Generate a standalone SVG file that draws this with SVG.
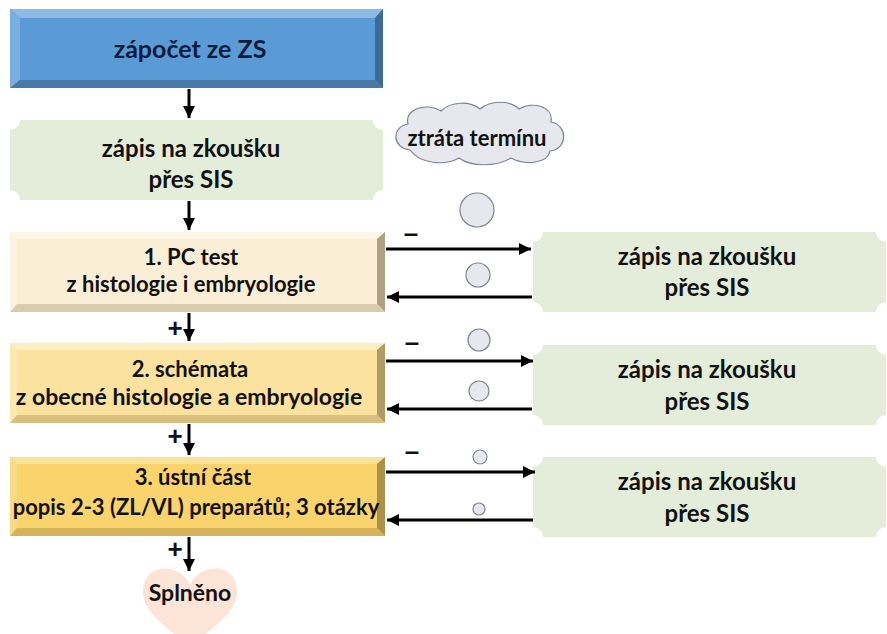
<svg xmlns="http://www.w3.org/2000/svg" width="887" height="634" viewBox="0 0 887 634">
<defs>
<style>
.t{font-family:Lato,"Open Sans","Liberation Sans",sans-serif;font-weight:bold;fill:#111;text-anchor:middle}
.s22{font-size:22px}
.s24{font-size:24px}
.sg{font-family:"Liberation Sans",Arial,sans-serif;font-weight:bold;font-size:26px;fill:#111;text-anchor:middle}
.green{fill:#E3EDDA}
.conn{stroke:#000;stroke-width:3;fill:none}
.bub{fill:#E6E8EE;stroke:#7E8592;stroke-width:1.2}
</style>
<marker id="ah" markerUnits="userSpaceOnUse" markerWidth="14" markerHeight="12" refX="12" refY="6" orient="auto">
<path d="M0,0 L12,6 L0,12 Z" fill="#000"/>
</marker>
</defs>
<rect width="887" height="634" fill="#fff"/>

<g id="n-zapocet">
<rect x="10" y="9" width="373" height="79" fill="#5B9BD5"/>
<polygon points="10,9 383,9 375,18 20,18" fill="#8DB9E4"/>
<polygon points="10,9 20,18 20,80 10,88" fill="#7AAEDE"/>
<polygon points="383,9 383,88 375,80 375,18" fill="#3D6A98"/>
<polygon points="10,88 383,88 375,80 20,80" fill="#4878A8"/>
<text class="t" x="190" y="58" font-size="25" style="fill:#0F1B3A">zápočet ze ZS</text>
</g>

<g id="n-zapis">
<path class="green" d="M20,120 H373 A10,10 0 0 0 383,130 V190 A10,10 0 0 0 373,200 H20 A10,10 0 0 0 10,190 V130 A10,10 0 0 0 20,120 Z"/>
<text class="t s24" x="191" y="157">zápis na zkoušku</text>
<text class="t s24" x="191" y="188">přes SIS</text>
</g>

<g id="n-pc">
<rect x="10" y="232" width="375" height="80" fill="#FBEED6"/>
<polygon points="10,232 385,232 377,239 17,239" fill="#FDF5E8"/>
<polygon points="10,232 17,239 17,304 10,312" fill="#FCF2E0"/>
<polygon points="385,232 385,312 377,304 377,239" fill="#ADA083"/>
<polygon points="10,312 385,312 377,304 17,304" fill="#D9CCAE"/>
<text class="t s22" x="191" y="265">1. PC test</text>
<text class="t s22" x="191" y="292">z histologie i embryologie</text>
</g>

<g id="n-schemata">
<rect x="10" y="343" width="375" height="80" fill="#FBE29E"/>
<polygon points="10,343 385,343 377,350 17,350" fill="#FDEDC2"/>
<polygon points="10,343 17,350 17,415 10,423" fill="#FCE8B2"/>
<polygon points="385,343 385,423 377,415 377,350" fill="#AE9C63"/>
<polygon points="10,423 385,423 377,415 17,415" fill="#D8C07E"/>
<text class="t s22" x="190" y="377">2. schémata</text>
<text class="t" x="189" y="405" font-size="23">z obecné histologie a embryologie</text>
</g>

<g id="n-ustni">
<rect x="10" y="457" width="375" height="79" fill="#F9D46C"/>
<polygon points="10,457 385,457 377,464 17,464" fill="#FBE19A"/>
<polygon points="10,457 17,464 17,528 10,536" fill="#FADB85"/>
<polygon points="385,457 385,536 377,528 377,464" fill="#AC9146"/>
<polygon points="10,536 385,536 377,528 17,528" fill="#D6B358"/>
<text class="t s22" x="193" y="485">3. ústní část</text>
<text class="t s22" x="196" y="515">popis 2-3 (ZL/VL) preparátů; 3 otázky</text>
</g>

<g id="n-splneno">
<path d="M190,585 C180,562 143,562 143,592 C143,614 170,628 190,648 C210,628 237,614 237,592 C237,562 200,562 190,585 Z" fill="#FCE4D6"/>
<text class="t" x="190" y="601" font-size="23">Splněno</text>
</g>

<g id="n-zapis-a">
<path class="green" d="M543,232 H876 A10,10 0 0 0 886,242 V302 A10,10 0 0 0 876,312 H543 A10,10 0 0 0 533,302 V242 A10,10 0 0 0 543,232 Z"/>
<text class="t s24" x="707" y="265">zápis na zkoušku</text>
<text class="t s24" x="707" y="296">přes SIS</text>
</g>

<g id="n-zapis-b">
<path class="green" d="M543,345 H876 A10,10 0 0 0 886,355 V415 A10,10 0 0 0 876,425 H543 A10,10 0 0 0 533,415 V355 A10,10 0 0 0 543,345 Z"/>
<text class="t s24" x="707" y="378">zápis na zkoušku</text>
<text class="t s24" x="707" y="410">přes SIS</text>
</g>

<g id="n-zapis-c">
<path class="green" d="M543,457 H876 A10,10 0 0 0 886,467 V527 A10,10 0 0 0 876,537 H543 A10,10 0 0 0 533,527 V467 A10,10 0 0 0 543,457 Z"/>
<text class="t s24" x="707" y="490">zápis na zkoušku</text>
<text class="t s24" x="707" y="522">přes SIS</text>
</g>

<g id="n-ztrata">
<path class="bub" d="M410,150 C392,148 391,127 408,124 C404,109 426,102 441,111 C451,101 470,101 480,109 C490,100 510,100 519,109 C532,101 554,106 551,122 C568,125 568,149 550,151 C548,163 526,166 511,158 C496,167 471,167 459,158 C445,166 420,164 410,150 Z"/>
<text class="t" x="477" y="146" font-size="22">ztráta termínu</text>
<circle class="bub" cx="477" cy="210" r="17"/>
<circle class="bub" cx="478" cy="275" r="12"/>
<circle class="bub" cx="479" cy="340" r="11"/>
<circle class="bub" cx="479" cy="391" r="10"/>
<circle class="bub" cx="480" cy="457" r="7"/>
<circle class="bub" cx="479" cy="509" r="6"/>
</g>

<g id="connectors">
<line class="conn" x1="189" y1="89" x2="189" y2="118" marker-end="url(#ah)"/>
<line class="conn" x1="189" y1="201" x2="189" y2="230" marker-end="url(#ah)"/>
<line class="conn" x1="189" y1="313" x2="189" y2="341" marker-end="url(#ah)"/>
<line class="conn" x1="189" y1="424" x2="189" y2="455" marker-end="url(#ah)"/>
<line class="conn" x1="189" y1="537" x2="189" y2="571" marker-end="url(#ah)"/>
<line class="conn" x1="386" y1="249" x2="531" y2="249" marker-end="url(#ah)"/>
<line class="conn" x1="532" y1="297" x2="387" y2="297" marker-end="url(#ah)"/>
<line class="conn" x1="386" y1="361" x2="533" y2="361" marker-end="url(#ah)"/>
<line class="conn" x1="532" y1="409" x2="387" y2="409" marker-end="url(#ah)"/>
<line class="conn" x1="386" y1="472" x2="535" y2="472" marker-end="url(#ah)"/>
<line class="conn" x1="533" y1="520" x2="387" y2="520" marker-end="url(#ah)"/>
<text class="sg" x="175" y="337">+</text>
<text class="sg" x="175" y="445">+</text>
<text class="sg" x="175" y="558">+</text>
<text class="sg" x="411" y="242">–</text>
<text class="sg" x="412" y="351">–</text>
<text class="sg" x="412" y="460">–</text>
</g>
</svg>
